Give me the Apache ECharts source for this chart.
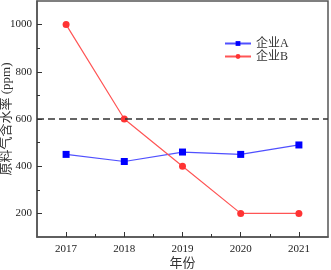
<!DOCTYPE html>
<html>
<head>
<meta charset="utf-8">
<script src="https://cdn.jsdelivr.net/npm/echarts@6/dist/echarts.min.js"></script>
<style>
  html, body { margin: 0; padding: 0; background: #fff; }
  #main { width: 331px; height: 270px; }
</style>
</head>
<body>
<div id="main"></div>
<script>
  // 数据
  var years = [2017, 2018, 2019, 2020, 2021]
  var companyA = [450, 420, 460, 450, 490]
  var companyB = [1000, 600, 400, 200, 200]
  var yLabels = [200, 400, 600, 800, 1000]
  var yMinorTicks = [300, 500, 700, 900]
  var xMinorTicks = [2017.5, 2018.5, 2019.5, 2020.5]
  var limitValue = 600

  var serif = "'Liberation Serif', 'Noto Sans CJK SC'"
  var axisColor = '#555'

  var chart = echarts.init(document.getElementById('main'))

  function pairs(xs, ys) {
    return xs.map(function (x, i) { return [x, ys[i]] })
  }
  function plain(v) { return String(v) }

  var option = {
    animation: false,
    grid: {
      left: 37, right: 3, top: 1, bottom: 33,
      outerBoundsMode: 'none', containLabel: false,
      show: true, borderColor: axisColor, borderWidth: 1.5
    },
    legend: {
      orient: 'vertical',
      left: 219, top: 32,
      itemWidth: 26, itemHeight: 6, itemGap: 0,
      textStyle: { fontFamily: serif, fontSize: 12, lineHeight: 13, color: '#333' },
      data: ['企业A', '企业B']
    },
    xAxis: [
      {
        type: 'value', min: 2016.5, max: 2021.5,
        name: '年份', nameLocation: 'middle', nameGap: 20, nameMoveOverlap: false,
        nameTextStyle: { fontFamily: serif, fontSize: 13, color: '#333' },
        axisLine: { lineStyle: { color: axisColor, width: 1.5 } },
        axisTick: { inside: true, length: 5, customValues: years, lineStyle: { color: '#333' } },
        axisLabel: { customValues: years, formatter: plain, fontFamily: serif, fontSize: 11, color: '#222', margin: 7 },
        splitLine: { show: false }
      },
      {
        type: 'value', min: 2016.5, max: 2021.5, position: 'bottom',
        axisLine: { show: false },
        axisTick: { inside: true, length: 3, customValues: xMinorTicks, lineStyle: { color: '#333' } },
        axisLabel: { show: false },
        splitLine: { show: false }
      }
    ],
    yAxis: [
      {
        type: 'value', min: 100, max: 1100,
        name: '原料气含水率 (ppm)', nameLocation: 'middle', nameGap: 24, nameMoveOverlap: false,
        nameTextStyle: { fontFamily: serif, fontSize: 13, color: '#333' },
        axisLine: { show: true, lineStyle: { color: axisColor, width: 1.5 } },
        axisTick: { show: true, inside: true, length: 5, customValues: yLabels, lineStyle: { color: '#333' } },
        axisLabel: { customValues: yLabels, formatter: plain, fontFamily: serif, fontSize: 11, color: '#222', margin: 5 },
        splitLine: { show: false }
      },
      {
        type: 'value', min: 100, max: 1100, position: 'left',
        axisLine: { show: false },
        axisTick: { show: true, inside: true, length: 3, customValues: yMinorTicks, lineStyle: { color: '#333' } },
        axisLabel: { show: false },
        splitLine: { show: false }
      }
    ],
    series: [
      {
        name: '企业A', type: 'line',
        data: pairs(years, companyA),
        symbol: 'rect', symbolSize: 7,
        itemStyle: { color: '#0000ff' },
        lineStyle: { color: '#5050ff', width: 1.2 },
        markLine: {
          silent: true, symbol: 'none', label: { show: false },
          lineStyle: { color: '#333', type: [7, 4], width: 1.6 },
          data: [{ yAxis: limitValue }]
        }
      },
      {
        name: '企业B', type: 'line',
        data: pairs(years, companyB),
        symbol: 'circle', symbolSize: 7,
        itemStyle: { color: '#ff3333' },
        lineStyle: { color: '#ff5555', width: 1.2 }
      }
    ]
  }

  chart.setOption(option)
</script>
</body>
</html>
